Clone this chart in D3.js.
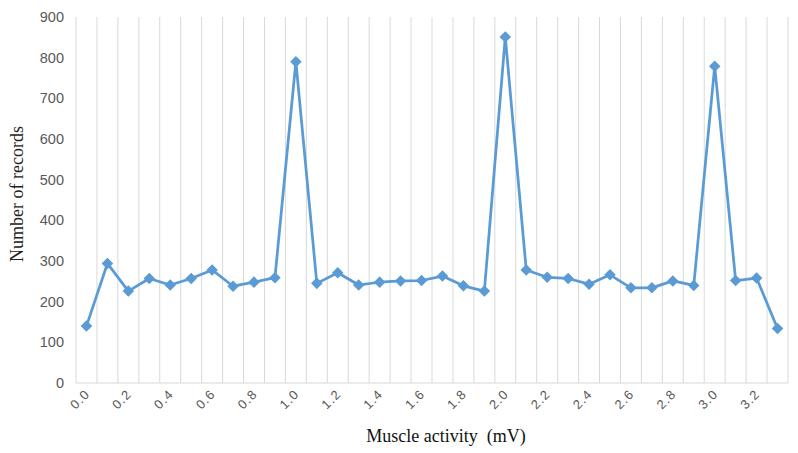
<!DOCTYPE html>
<html>
<head>
<meta charset="utf-8">
<script src="https://cdn.jsdelivr.net/npm/d3@7"></script>
<style>
  body { margin: 0; background: #fff; }
  svg { display: block; }
  .tick text { fill: #595959; font-family: "Liberation Sans", Arial, sans-serif; }
</style>
</head>
<body>
<svg id="chart" width="798" height="453"></svg>
<script>
"use strict";

// categories: muscle activity in mV, 0.0 .. 3.3
const categories = ["0.0","0.1","0.2","0.3","0.4","0.5","0.6","0.7","0.8","0.9",
  "1.0","1.1","1.2","1.3","1.4","1.5","1.6","1.7","1.8","1.9",
  "2.0","2.1","2.2","2.3","2.4","2.5","2.6","2.7","2.8","2.9",
  "3.0","3.1","3.2","3.3"];
// number of records per bin
const records = [140, 294, 226, 257, 241, 257, 278, 238, 248, 259,
  790, 245, 271, 241, 248, 251, 252, 263, 239, 226,
  851, 278, 260, 257, 243, 266, 234, 234, 251, 240,
  779, 252, 258, 134];
const yTicks = [0, 100, 200, 300, 400, 500, 600, 700, 800, 900];

const svg = d3.select("#chart");
const m = { left: 76, right: 10, top: 17, bottom: 70 };
const W = 798, H = 453;

const x = d3.scaleBand().domain(categories).range([m.left, W - m.right]);
const y = d3.scaleLinear().domain([0, 900]).range([H - m.bottom, m.top]);

// vertical gridlines at category boundaries
const bounds = categories.map(c => x(c)).concat([x.range()[1]]);
svg.append("g").selectAll("line").data(bounds).join("line")
  .attr("x1", d => d).attr("x2", d => d)
  .attr("y1", y(900)).attr("y2", y(0))
  .attr("stroke", "#d9d9d9").attr("stroke-width", 1);

// x axis baseline
svg.append("line")
  .attr("x1", m.left).attr("x2", W - m.right)
  .attr("y1", y(0)).attr("y2", y(0))
  .attr("stroke", "#d9d9d9");

// y axis labels
const yAxis = svg.append("g")
  .attr("transform", `translate(${m.left - 8},0)`)
  .call(d3.axisLeft(y).tickValues(yTicks).tickSize(0).tickPadding(4));
yAxis.select(".domain").remove();
yAxis.selectAll("text").style("font-size", "14.5px");

// x axis labels, every other category, rotated
const xAxis = svg.append("g")
  .attr("transform", `translate(0,${y(0)})`)
  .call(d3.axisBottom(x).tickValues(categories.filter((c, i) => i % 2 === 0)).tickSize(0).tickPadding(0));
xAxis.select(".domain").remove();
xAxis.selectAll("text")
  .style("font-size", "13px")
  .style("letter-spacing", "1px")
  .attr("text-anchor", "end")
  .attr("dy", null)
  .attr("transform", "translate(4,12) rotate(-45)");

const cx = c => x(c) + x.bandwidth() / 2;
const pts = categories.map((c, i) => [cx(c), y(records[i])]);

svg.append("path")
  .attr("d", d3.line()(pts))
  .attr("fill", "none")
  .attr("stroke", "#5b9bd5")
  .attr("stroke-width", 2.75)
  .attr("stroke-linejoin", "round");

svg.append("g").selectAll("path").data(pts).join("path")
  .attr("d", d3.symbol(d3.symbolDiamond2, 85)())
  .attr("transform", d => `translate(${d[0]},${d[1]})`)
  .attr("fill", "#5b9bd5");

// axis titles
svg.append("text")
  .attr("transform", `translate(23,${(y(0) + y(900)) / 2 - 6}) rotate(-90)`)
  .attr("text-anchor", "middle")
  .style("font-family", "'Liberation Serif', 'Times New Roman', serif")
  .style("font-size", "18px")
  .attr("fill", "#222")
  .text("Number of records");

svg.append("text")
  .attr("x", 446).attr("y", 442)
  .attr("text-anchor", "middle")
  .style("font-family", "'Liberation Serif', 'Times New Roman', serif")
  .style("font-size", "18px")
  .attr("fill", "#111")
  .attr("xml:space", "preserve")
  .text("Muscle activity  (mV)");
</script>
</body>
</html>
